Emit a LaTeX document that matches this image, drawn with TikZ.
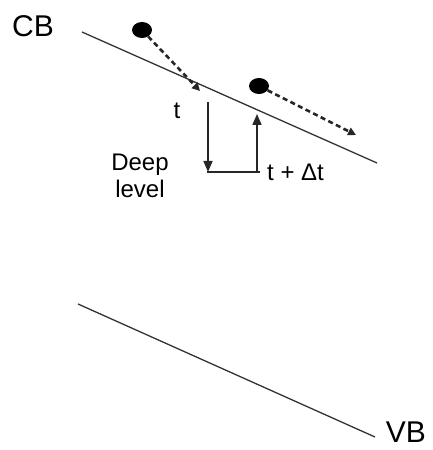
\documentclass[tikz,border=0pt]{standalone}
\usepackage{fontspec}
\setmainfont{Liberation Sans}
\usetikzlibrary{arrows.meta,positioning,shapes.geometric}

\begin{document}
\begin{tikzpicture}[x=1pt,y=1pt,
    band/.style={line width=1.3pt,black!80},
    electron/.style={ellipse,fill=black,inner sep=0pt,minimum width=20pt,minimum height=16pt},
    hop/.style={-{Triangle[length=8pt,width=8pt]},line width=2.6pt,dash pattern=on 5pt off 3.5pt,black!85},
    trap/.style={-{Triangle[length=11pt,width=9pt]},line width=1.6pt,black!85},
    lbl/.style={font=\fontsize{24}{27}\selectfont,inner sep=0pt,align=center},
    bandlbl/.style={font=\fontsize{30}{34}\selectfont,inner sep=0pt}
  ]
  \useasboundingbox (0,0) rectangle (433,450);
  % conduction and valence bands
  \coordinate (cbL) at (82,418); \coordinate (cbR) at (377,287);
  \coordinate (vbL) at (78,146); \coordinate (vbR) at (375,13);
  \draw[band] (cbL) -- (cbR);
  \draw[band] (vbL) -- (vbR);
  \node[bandlbl,anchor=west] (cb) at (12,424) {CB};
  \node[bandlbl,anchor=south east] (vb) at (426,7) {VB};
  % electrons
  \node[electron] (e1) at (142,420) {};
  \node[electron] (e2) at (259,364) {};
  \coordinate (h1) at (200,359); \coordinate (h2) at (356,315);
  \draw[hop] (e1) -- (h1);
  \draw[hop] (e2) -- (h2);
  % deep level capture and emission
  \coordinate (dl1) at (207,278); \coordinate (dl2) at (260,278);
  \coordinate (down0) at (208,348); \coordinate (up1) at (257,336);
  \draw[line width=1.6pt,black!85] (dl1) -- (dl2);
  \draw[trap] (down0) -- (down0 |- dl1);
  \draw[trap] (up1 |- dl1) -- (up1);
  \node[lbl] (tc) at (177,339) {t};
  \node[lbl,anchor=west] (te) at (267,278) {t + Δt};
  \node[lbl] (deep) at (140,274) {Deep\\level};
\end{tikzpicture}
\end{document}
